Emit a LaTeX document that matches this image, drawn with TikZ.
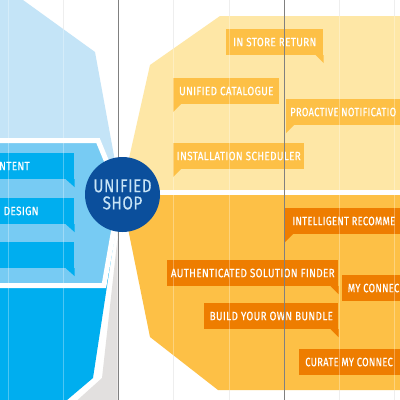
\documentclass[tikz,border=0pt]{standalone}
\usepackage{fontspec}
\usepackage{graphicx}
\newfontfamily\tagfont{Fira Sans}[FakeStretch=0.82,LetterSpace=3,FakeBold=0.4]
\definecolor{lblue}{HTML}{C4E4F7}
\definecolor{mblue}{HTML}{77CBF3}
\definecolor{bblue}{HTML}{00AEEF}
\definecolor{navy}{HTML}{0B4F9C}
\definecolor{lyel}{HTML}{FEE7A6}
\definecolor{dyel}{HTML}{FDC046}
\definecolor{orng}{HTML}{EE7D00}
\definecolor{sgray}{HTML}{E2E0DF}
\definecolor{gridl}{HTML}{E8E8E8}
\definecolor{dline}{HTML}{808080}
\definecolor{shoptext}{HTML}{C8E4F6}
\newcommand{\cuttext}[1]{\scalebox{0.94}[1]{#1}}
\begin{document}
\begin{tikzpicture}[x=0.25mm,y=-0.25mm,
  tag/.style={anchor=north west,inner sep=0pt,minimum height=25.5*0.25mm,text=white,
    font=\tagfont\fontsize{8.6}{9}\selectfont},
  tagtext/.style={text=white,inner sep=0pt,font=\tagfont\fontsize{8.6}{9}\selectfont}]
  \useasboundingbox (0,0) rectangle (400,400);
  \clip (0,0) rectangle (400,400);
  \fill[white] (0,0) rectangle (400,400);

  % grid
  \foreach \gx in {8,63,173,229,339,394}
    \draw[gridl,line width=1*0.25mm] (\gx,0) -- (\gx,400);

  % left petal
  \fill[lblue] (0,0) -- (23,0) -- (95,52) -- (121,194) -- (0,194) -- cycle;
  \fill[bblue] (0,194) -- (121,194) -- (93,378) -- (60,406) -- (0,406) -- cycle;
  \fill[sgray] (119,225) -- (102,378) -- (72,405) -- (117.5,405) -- (117.5,225) -- cycle;
  \filldraw[fill=mblue,draw=white,line width=5*0.25mm]
    (-10,140.5) -- (98,140.5) -- (120,194) -- (104,285.5) -- (-10,285.5) -- cycle;

  % right petal
  \fill[lyel] (121,194) -- (150,65) -- (220,16) -- (410,16) -- (410,194) -- cycle;
  \fill[dyel] (121,194) -- (150,337) -- (218,390) -- (410,390) -- (410,194) -- cycle;
  \draw[white,line width=5*0.25mm] (121,192.5) -- (410,192.5);

  % blue tags
  \node[tag,fill=bblue,minimum width=84*0.25mm] (content) at (-10,153) {};
  \fill[bblue] (content.south east) -- ++(0,8) -- ++(-9,-8) -- cycle;
  \node[tagtext,anchor=east] (contentlbl) at (30,166) {NTENT};
  \node[tag,fill=bblue,minimum width=84*0.25mm] (design) at (-10,198) {};
  \fill[bblue] (design.south east) -- ++(0,8) -- ++(-9,-8) -- cycle;
  \node[tagtext,anchor=west] (designlbl) at (3.5,211) {DESIGN};
  \node[tag,fill=bblue,minimum width=84*0.25mm] (third) at (-10,242) {};
  \fill[bblue] (third.south east) -- ++(0,8) -- ++(-9,-8) -- cycle;

  % yellow tags
  \node[tag,fill=dyel,minimum width=97*0.25mm] (ret) at (226,29) {IN STORE RETURN};
  \fill[dyel] (ret.south east) -- ++(0,8) -- ++(-8,-8) -- cycle;
  \node[tag,fill=dyel,minimum width=106*0.25mm] (cat) at (173,78) {UNIFIED CATALOGUE};
  \fill[dyel] (cat.south west) -- ++(0,8) -- ++(8,-8) -- cycle;
  \node[tag,fill=dyel,minimum width=130*0.25mm] (notif) at (286,99) {};
  \fill[dyel] (notif.south west) -- ++(0,8) -- ++(8,-8) -- cycle;
  \node[tagtext,anchor=west] (notiflbl) at ([xshift=1mm]notif.west) {\cuttext{PROACTIVE NOTIFICATIO}};
  \node[tag,fill=dyel,minimum width=131*0.25mm] (sched) at (173,143) {INSTALLATION SCHEDULER};
  \fill[dyel] (sched.south west) -- ++(0,8) -- ++(8,-8) -- cycle;

  % orange tags
  \node[tag,fill=orng,minimum width=130*0.25mm] (recom) at (285,208) {};
  \fill[orng] (recom.south west) -- ++(0,8) -- ++(8,-8) -- cycle;
  \node[tagtext,anchor=west] (recomlbl) at ([xshift=1.8mm]recom.west) {\cuttext{INTELLIGENT RECOMME}};
  \node[tag,fill=orng,minimum width=171*0.25mm] (auth) at (167,260) {AUTHENTICATED SOLUTION FINDER};
  \fill[orng] (auth.south east) -- ++(0,8) -- ++(-8,-8) -- cycle;
  \node[tag,fill=orng,minimum width=70*0.25mm] (myconn) at (342,275) {};
  \node[tagtext,anchor=west] (myconnlbl) at ([xshift=1.4mm]myconn.west) {\cuttext{MY CONNEC}};
  \node[tag,fill=orng,minimum width=134*0.25mm] (bundle) at (204,303) {BUILD YOUR OWN BUNDLE};
  \fill[orng] (bundle.south east) -- ++(0,8) -- ++(-8,-8) -- cycle;
  \node[tag,fill=orng,minimum width=110*0.25mm] (curate) at (299,349) {};
  \node[tagtext,anchor=west] (curatelbl) at ([xshift=1.5mm]curate.west) {\cuttext{CURATE MY CONNEC}};

  % grid over
  \foreach \gx in {8,63,173,229,339,394}
    \draw[white,opacity=0.3,line width=1*0.25mm] (\gx,0) -- (\gx,400);
  \foreach \gx in {118.5,284.5}
    \draw[dline,line width=1*0.25mm] (\gx,0) -- (\gx,400);

  % hub
  \node[circle,fill=navy,minimum size=75*0.25mm,inner sep=0pt] (hub) at (122.5,194.5) {};
  \node[align=center,text=shoptext,inner sep=0pt,
    font=\tagfont\fontsize{13.2}{12.2}\selectfont] (hublbl) at (hub.center) {UNIFIED\\SHOP};
\end{tikzpicture}
\end{document}
